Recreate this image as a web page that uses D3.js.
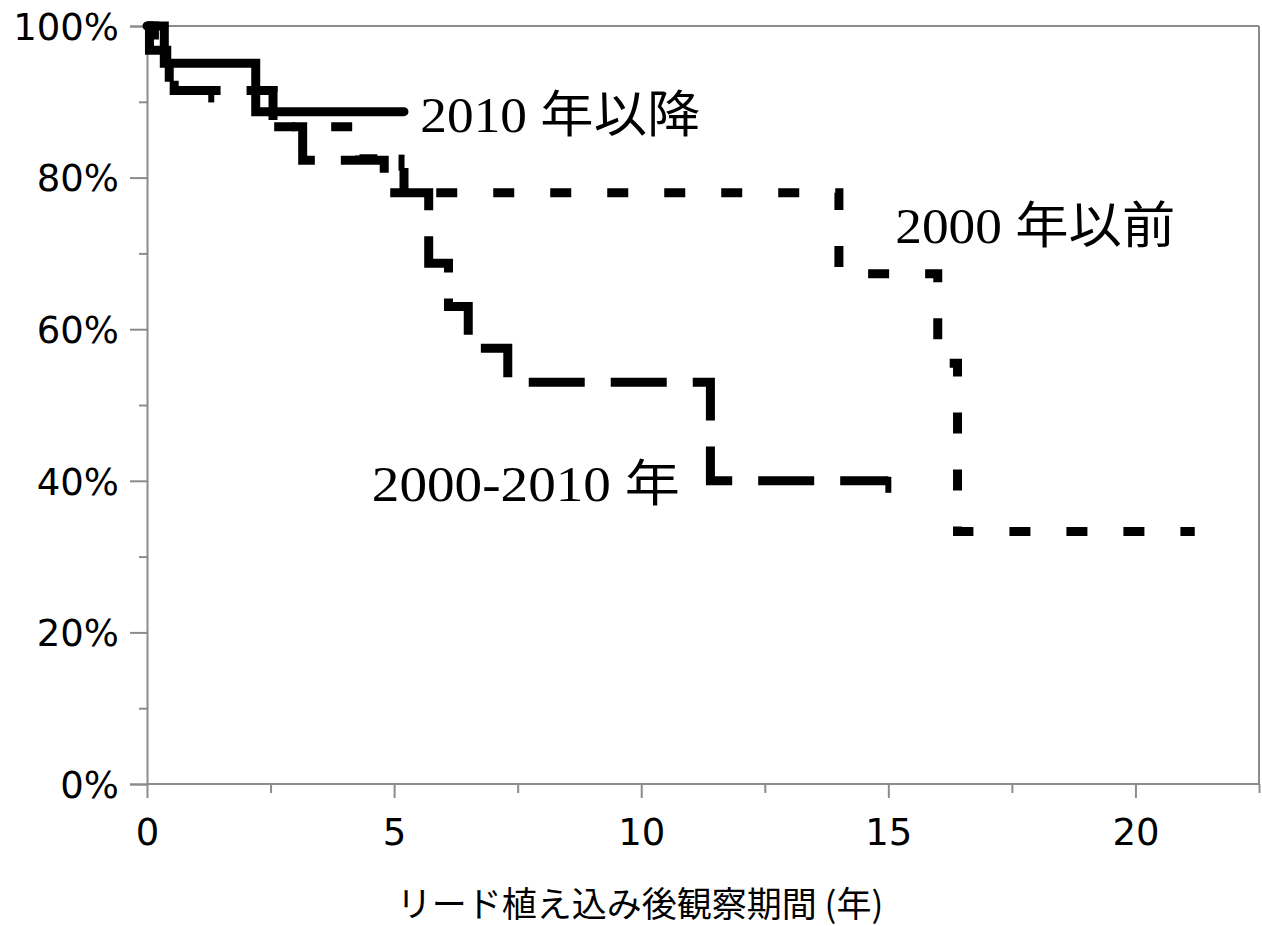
<!DOCTYPE html>
<html>
<head>
<meta charset="utf-8">
<script src="https://cdn.jsdelivr.net/npm/d3@7/dist/d3.min.js"></script>
<style>
html,body{margin:0;padding:0;background:#fff;}
svg{display:block;}
</style>
</head>
<body>
<svg id="chart" width="1262" height="926"></svg>
<script>
// ---- data ----
const xTicks = [0, 5, 10, 15, 20];
const yTicks = [0, 20, 40, 60, 80, 100];

// 2010年以降 (solid)
const solidT = [0, 0.35, 2.2, 5.2];
const solidS = [100, 95.1, 88.7, 88.7];

// 2000-2010年 (long dash)
const longT = [0, 0.05, 0.4, 0.55, 2.55, 3.15, 4.8, 5.7, 6.1, 6.5, 7.3, 11.4, 15.0];
const longS = [100, 96.8, 93.8, 91.5, 86.7, 82.3, 78, 68.7, 63, 57.5, 53, 40, 40];

// 2000年以前 (short dash)
const shortT = [0, 0.15, 0.45, 2.55, 4.3, 5.2, 14.0, 16.0, 16.4, 21.2];
const shortS = [100, 96.8, 91.5, 86.7, 82.5, 78, 67.3, 55.5, 33.3, 33.3];

// censored marks
const longCensorT = [1.3, 15.0];
const longCensorS = [91.5, 40];
const shortCensorT = [5.15];
const shortCensorS = [82.5];

const labels = ["2010 年以降", "2000-2010 年", "2000 年以前"];
const labelT = [5.53, 4.55, 15.14];
const labelS = [88.7, 40, 74];
const labelW = [280, 308, 280];
const xTitle = "リード植え込み後観察期間 (年)";

// ---- layout ----
const svg = d3.select("#chart");
const L = 147, T = 26, R = 1259, B = 784;
const x = d3.scaleLinear().domain([0, 22.5]).range([L, R]);
const y = d3.scaleLinear().domain([0, 100]).range([B, T]);
const axisColor = "#8c8c8c";
const tickFont = "DejaVu Sans, Verdana, sans-serif";

// frame (top & right)
svg.append("line").attr("x1", L).attr("x2", R).attr("y1", T).attr("y2", T)
  .attr("stroke", axisColor).attr("stroke-width", 2);
svg.append("line").attr("x1", R).attr("x2", R).attr("y1", T).attr("y2", B)
  .attr("stroke", axisColor).attr("stroke-width", 2);

// y axis
const yAxis = d3.axisLeft(y).tickValues(yTicks).tickFormat(d => d + "%").tickSize(17).tickPadding(11);
const gy = svg.append("g").attr("transform", `translate(${L},0)`).call(yAxis);
gy.select(".domain").attr("stroke", axisColor).attr("stroke-width", 2);
gy.selectAll(".tick line").attr("stroke", axisColor).attr("stroke-width", 2);
gy.selectAll(".tick text").attr("font-family", tickFont)
  .attr("font-size", 37).attr("fill", "#000").attr("dy", "0.36em");
const yMinor = d3.axisLeft(y).tickValues([10, 30, 50, 70, 90]).tickFormat("").tickSize(8);
const gym = svg.append("g").attr("transform", `translate(${L},0)`).call(yMinor);
gym.select(".domain").remove();
gym.selectAll(".tick line").attr("stroke", axisColor).attr("stroke-width", 2);

// x axis
const xAxis = d3.axisBottom(x).tickValues(xTicks).tickSize(14).tickPadding(21);
const gx = svg.append("g").attr("transform", `translate(0,${B})`).call(xAxis);
gx.select(".domain").attr("stroke", axisColor).attr("stroke-width", 2)
  .attr("d", `M${L},0H${R}`);
gx.selectAll(".tick line").attr("stroke", axisColor).attr("stroke-width", 2);
gx.selectAll(".tick text").attr("font-family", tickFont)
  .attr("font-size", 37).attr("fill", "#000");
const xMinor = d3.axisBottom(x).tickValues([2.5, 7.5, 12.5, 17.5, 22.5]).tickFormat("").tickSize(9);
const gxm = svg.append("g").attr("transform", `translate(0,${B})`).call(xMinor);
gxm.select(".domain").remove();
gxm.selectAll(".tick line").attr("stroke", axisColor).attr("stroke-width", 2);

// curves
const line = d3.line().x(d => x(d[0])).y(d => y(d[1])).curve(d3.curveStepAfter);
function series(T, S) { return T.map((t, i) => [t, S[i]]); }

svg.append("path").datum(series(shortT, shortS)).attr("d", line)
  .attr("fill", "none").attr("stroke", "#000").attr("stroke-width", 9)
  .attr("stroke-dasharray", "21,36").attr("stroke-linecap", "butt");
svg.append("path").datum(series(longT, longS)).attr("d", line)
  .attr("fill", "none").attr("stroke", "#000").attr("stroke-width", 9)
  .attr("stroke-dasharray", "56,26").attr("stroke-linecap", "butt");
svg.append("path").datum(series(solidT, solidS)).attr("d", line)
  .attr("fill", "none").attr("stroke", "#000").attr("stroke-width", 9)
  .attr("stroke-linecap", "round");

// censor marks
const cens = series(longCensorT, longCensorS).concat(series(shortCensorT, shortCensorS));
svg.selectAll("line.cens").data(cens).enter().append("line").attr("class", "cens")
  .attr("x1", d => x(d[0])).attr("x2", d => x(d[0]))
  .attr("y1", d => y(d[1]) - 4).attr("y2", d => y(d[1]) + 12)
  .attr("stroke", "#000").attr("stroke-width", 6);

// labels
svg.selectAll("text.lab").data(labels).enter().append("text").attr("class", "lab")
  .attr("x", (d, i) => x(labelT[i]))
  .attr("y", (d, i) => y(labelS[i]) + 20)
  .attr("font-family", "Liberation Serif, Noto Sans CJK JP, serif")
  .attr("font-size", 50).attr("fill", "#000")
  .attr("textLength", (d, i) => labelW[i]).attr("lengthAdjust", "spacingAndGlyphs")
  .text(d => d);

// x title
svg.append("text").attr("x", 640).attr("y", 917).attr("text-anchor", "middle")
  .attr("font-family", "Noto Sans CJK JP, sans-serif").attr("font-size", 35)
  .attr("fill", "#000").text(xTitle);
</script>
</body>
</html>
